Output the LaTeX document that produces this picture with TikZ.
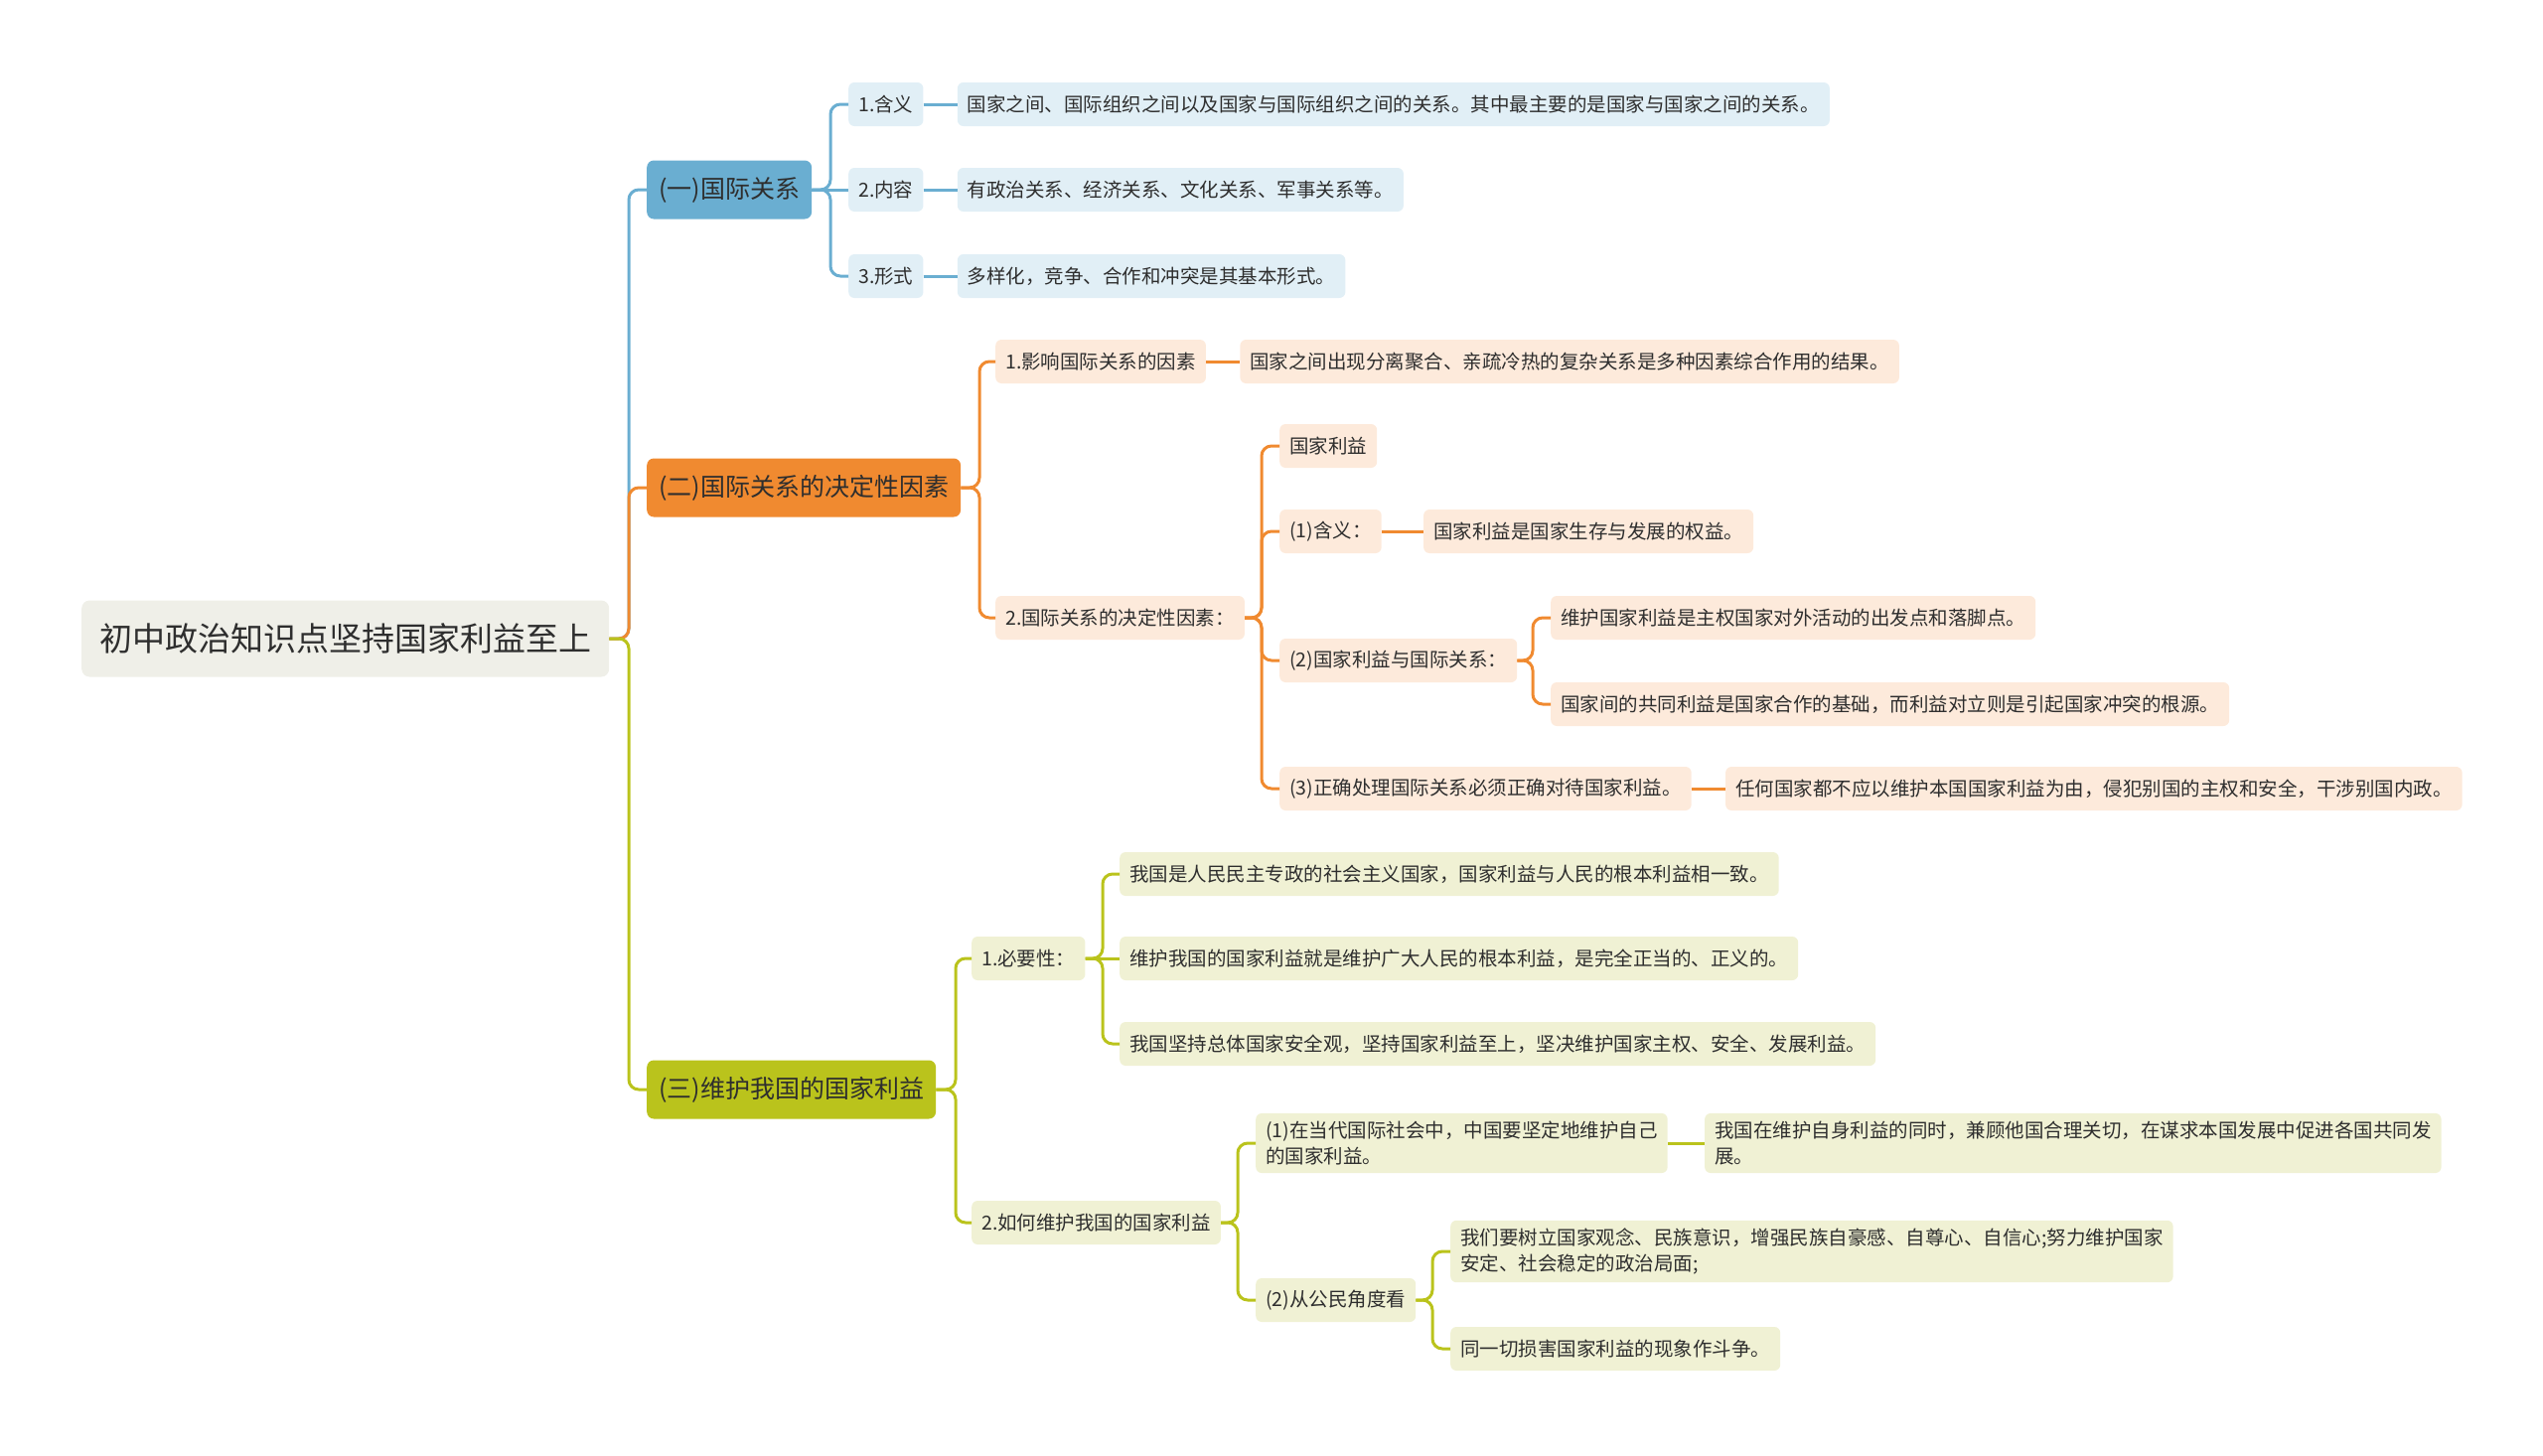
\documentclass[tikz,border=0pt]{standalone}
\usepackage{fontspec}
\setmainfont{Noto Sans CJK SC}
\usetikzlibrary{positioning}

\definecolor{rootbg}{HTML}{EFEFE8}
\definecolor{bluemain}{HTML}{6AAED1}
\definecolor{bluelight}{HTML}{E1EFF6}
\definecolor{orgmain}{HTML}{F08A30}
\definecolor{orglight}{HTML}{FDEADB}
\definecolor{grnmain}{HTML}{BAC31C}
\definecolor{grnlight}{HTML}{F0F1D4}
\definecolor{inktext}{HTML}{2E2E2E}

\begin{document}
\begin{tikzpicture}[
  x=1pt, y=-1pt,
  rootbox/.style={rectangle, rounded corners=8pt, fill=rootbg, minimum height=77pt, inner xsep=18pt, text=inktext, font=\fontsize{33}{40}\selectfont},
  topic/.style={rectangle, rounded corners=7pt, minimum height=59pt, inner xsep=12pt, text=inktext, font=\fontsize{25}{30}\selectfont},
  item/.style={rectangle, rounded corners=6pt, minimum height=44pt, inner xsep=10pt, inner ysep=8pt, align=left, text=inktext, font=\fontsize{19.5}{26}\selectfont},
  link/.style={line width=3pt, rounded corners=10pt},
  node distance=34pt
]
\useasboundingbox (0,0) rectangle (2560,1465);

\node[rootbox, anchor=west] (root) at (82,643) {初中政治知识点坚持国家利益至上};

% branch one
\node[topic, fill=bluemain, anchor=west] (A) at (651,191) {(一)国际关系};
\node[item, fill=bluelight, anchor=west] (a1) at (854,105) {1.含义};
\node[item, fill=bluelight, anchor=west] (a2) at (854,191) {2.内容};
\node[item, fill=bluelight, anchor=west] (a3) at (854,278) {3.形式};
\node[item, fill=bluelight, right=of a1] (a1x) {国家之间、国际组织之间以及国家与国际组织之间的关系。其中最主要的是国家与国家之间的关系。};
\node[item, fill=bluelight, right=of a2] (a2x) {有政治关系、经济关系、文化关系、军事关系等。};
\node[item, fill=bluelight, right=of a3] (a3x) {多样化，竞争、合作和冲突是其基本形式。};

% branch two
\node[topic, fill=orgmain, anchor=west] (B) at (651,491) {(二)国际关系的决定性因素};
\node[item, fill=orglight, anchor=west] (b1) at (1002,364) {1.影响国际关系的因素};
\node[item, fill=orglight, right=of b1] (b1x) {国家之间出现分离聚合、亲疏冷热的复杂关系是多种因素综合作用的结果。};
\node[item, fill=orglight, anchor=west] (b2) at (1002,622) {2.国际关系的决定性因素：};
\node[item, fill=orglight, anchor=west] (b21) at (1288,449) {国家利益};
\node[item, fill=orglight, anchor=west] (b22) at (1288,535) {(1)含义：};
\node[item, fill=orglight, right=42pt of b22] (b22x) {国家利益是国家生存与发展的权益。};
\node[item, fill=orglight, anchor=west] (b23) at (1288,665) {(2)国家利益与国际关系：};
\node[item, fill=orglight, anchor=west] (b231) at (1561,622) {维护国家利益是主权国家对外活动的出发点和落脚点。};
\node[item, fill=orglight, anchor=west] (b232) at (1561,709) {国家间的共同利益是国家合作的基础，而利益对立则是引起国家冲突的根源。};
\node[item, fill=orglight, anchor=west] (b24) at (1288,794) {(3)正确处理国际关系必须正确对待国家利益。};
\node[item, fill=orglight, right=of b24] (b24x) {任何国家都不应以维护本国国家利益为由，侵犯别国的主权和安全，干涉别国内政。};

% branch three
\node[topic, fill=grnmain, anchor=west] (C) at (651,1097) {(三)维护我国的国家利益};
\node[item, fill=grnlight, anchor=west] (c1) at (978,965) {1.必要性：};
\node[item, fill=grnlight, anchor=west] (c11) at (1127,880) {我国是人民民主专政的社会主义国家，国家利益与人民的根本利益相一致。};
\node[item, fill=grnlight, anchor=west] (c12) at (1127,965) {维护我国的国家利益就是维护广大人民的根本利益，是完全正当的、正义的。};
\node[item, fill=grnlight, anchor=west] (c13) at (1127,1051) {我国坚持总体国家安全观，坚持国家利益至上，坚决维护国家主权、安全、发展利益。};
\node[item, fill=grnlight, anchor=west] (c2) at (978,1231) {2.如何维护我国的国家利益};
\node[item, fill=grnlight, anchor=west] (c21) at (1264,1151) {(1)在当代国际社会中，中国要坚定地维护自己\\的国家利益。};
\node[item, fill=grnlight, right=37pt of c21] (c21x) {我国在维护自身利益的同时，兼顾他国合理关切，在谋求本国发展中促进各国共同发\\展。};
\node[item, fill=grnlight, anchor=west] (c22) at (1264,1309) {(2)从公民角度看};
\node[item, fill=grnlight, anchor=west] (c221) at (1460,1260) {我们要树立国家观念、民族意识，增强民族自豪感、自尊心、自信心;努力维护国家\\安定、社会稳定的政治局面;};
\node[item, fill=grnlight, anchor=west] (c222) at (1460,1358) {同一切损害国家利益的现象作斗争。};

% trunk points
\coordinate (rootT) at (633,643);
\coordinate (AT) at (836,191);
\coordinate (BT) at (986,491);
\coordinate (b2T) at (1270,622);
\coordinate (b23T) at (1543,665);
\coordinate (CT) at (962,1097);
\coordinate (c1T) at (1110,965);
\coordinate (c2T) at (1246,1231);
\coordinate (c22T) at (1442,1309);

% connectors
\draw[link, bluemain] (root.east) -- (rootT) |- (A.west);
\draw[link, orgmain] (root.east) -- (rootT) |- (B.west);
\draw[link, grnmain] (root.east) -- (rootT) |- (C.west);

\foreach \c in {a1,a3} \draw[link, bluemain] (A.east) -- (AT) |- (\c.west);
\draw[link, bluemain] (A.east) -- (a2.west);
\foreach \c in {a1,a2,a3} \draw[link, bluemain] (\c.east) -- (\c x.west);

\foreach \c in {b1,b2} \draw[link, orgmain] (B.east) -- (BT) |- (\c.west);
\draw[link, orgmain] (b1.east) -- (b1x.west);
\foreach \c in {b21,b22,b23,b24} \draw[link, orgmain] (b2.east) -- (b2T) |- (\c.west);
\draw[link, orgmain] (b22.east) -- (b22x.west);
\draw[link, orgmain] (b24.east) -- (b24x.west);
\foreach \c in {b231,b232} \draw[link, orgmain] (b23.east) -- (b23T) |- (\c.west);

\foreach \c in {c1,c2} \draw[link, grnmain] (C.east) -- (CT) |- (\c.west);
\foreach \c in {c11,c13} \draw[link, grnmain] (c1.east) -- (c1T) |- (\c.west);
\draw[link, grnmain] (c1.east) -- (c12.west);
\foreach \c in {c21,c22} \draw[link, grnmain] (c2.east) -- (c2T) |- (\c.west);
\draw[link, grnmain] (c21.east) -- (c21x.west);
\foreach \c in {c221,c222} \draw[link, grnmain] (c22.east) -- (c22T) |- (\c.west);
\end{tikzpicture}
\end{document}
